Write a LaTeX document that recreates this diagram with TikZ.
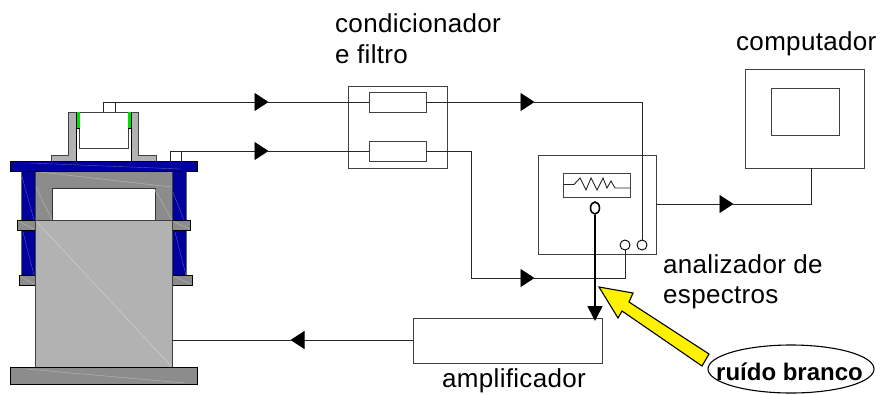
\documentclass[tikz,border=0pt]{standalone}
\usepackage{fontspec}
\setmainfont{Liberation Sans}
\newfontfamily\labfont[LetterSpace=1.2]{Liberation Sans}
\usetikzlibrary{arrows.meta,shapes.geometric}
\definecolor{bluepart}{HTML}{00009C}
\definecolor{lightpart}{HTML}{B2B2B2}
\definecolor{darkpart}{HTML}{8C8C8C}
\definecolor{greenpart}{HTML}{00E000}
\definecolor{edgegray}{HTML}{404040}
\newcommand{\bx}[6]{%
  \pgfmathsetmacro\cxx{(#3+#5)/2}\pgfmathsetmacro\cyy{(#4+#6)/2}%
  \pgfmathsetmacro\wxx{#5-#3}\pgfmathsetmacro\hyy{#6-#4}%
  \node[#1,minimum width=\wxx pt,minimum height=\hyy pt] (#2) at (\cxx,\cyy) {};}
\tikzset{
  boxp/.style={draw=edgegray,line width=0.9pt,inner sep=0pt,outer sep=0pt,rectangle},
  wire/.style={draw=black!85,line width=0.9pt},
  tipped/.style={wire,-{Triangle[length=14pt,width=18pt,color=black,fill=black]},shorten >=-0.5pt},
  part/.style={draw=black!80,line width=0.9pt},
  glintb/.style={draw=bluepart!65!white,line width=0.4pt},
  glintl/.style={draw=lightpart!55!white,line width=0.4pt},
  glintd/.style={draw=lightpart,line width=0.5pt},
  lab/.style={anchor=base west,inner sep=0pt,font=\labfont\fontsize{26}{30}\selectfont},
}
\begin{document}
\begin{tikzpicture}[x=1pt,y=-1pt]
\useasboundingbox (0,0) rectangle (880,394);
% machine
\fill[bluepart] (21,171) rectangle (35,275);
\fill[bluepart] (172,171) rectangle (186,275);
\draw[glintb] (21,173) -- (34,220) (23,232) -- (34,275);
\draw[glintb] (172,190) -- (186,225) (175,232) -- (186,275);
\draw[part,draw=black!60] (21,171) -- (21,275) (186,171) -- (186,275);
\fill[darkpart,draw=edgegray,line width=0.8pt] (35,171) rectangle (172,220);
\fill[white,draw=black!80,line width=0.8pt] (52,188) rectangle (155,220);
\draw[glintd] (40,172) -- (172,187);
\draw[glintd] (36,187) -- (52,220);
\draw[glintd] (155,190) -- (172,220);
\fill[darkpart,draw=black,line width=0.8pt] (17,220) rectangle (190,230);
\fill[darkpart,draw=black,line width=0.8pt] (19,275) rectangle (192,285);
\draw[glintd] (18,221) -- (34,229) (173,221) -- (189,229) (20,276) -- (34,284) (173,276) -- (191,284);
\fill[lightpart,draw=edgegray,line width=0.9pt] (35,220) rectangle (172,367);
\draw[glintl] (36,221) -- (171,366);
\fill[darkpart,draw=black,line width=0.8pt] (10,367) rectangle (197,384);
\draw[glintd] (26,369) -- (185,383);
% top plate and sensor
\fill[lightpart,draw=edgegray,line width=0.8pt] (51,161) -- (51,155) -- (68,155) -- (68,112) -- (76,112) -- (76,161) -- cycle;
\fill[lightpart,draw=edgegray,line width=0.8pt] (156,161) -- (156,155) -- (138,155) -- (138,112) -- (131,112) -- (131,161) -- cycle;
\draw[draw=black,line width=0.9pt] (76,112) -- (76,161) (131,128) -- (131,161);
\fill[white,draw=edgegray,line width=0.8pt] (79,112) rectangle (128,148);
\draw[edgegray,line width=0.8pt] (76,112) -- (131,112);
\fill[greenpart] (76,112) rectangle (79.5,128);
\fill[greenpart] (127.5,112) rectangle (131,128);
\draw[black,line width=0.7pt] (76,112) -- (76,128) -- (79.5,128);
\draw[black,line width=0.7pt] (127.5,128) -- (131,128) -- (131,112);
\fill[bluepart,draw=black,line width=0.9pt] (10,161) rectangle (197,171);
\draw[glintb] (30,163) -- (180,169);
% instruments
\bx{boxp}{cond}{348}{86}{447}{168}
\bx{boxp}{filta}{369}{92}{426}{112}
\bx{boxp}{filtb}{369}{141}{426}{161}
\bx{boxp}{ana}{538}{155}{656}{254}
\bx{boxp}{scr}{563}{173}{630}{197}
\bx{boxp}{comp}{745}{69}{864}{168}
\bx{boxp}{cscr}{771}{88}{839}{135}
\bx{boxp}{amp}{413}{318}{602}{363}
\node[draw=black,line width=0.9pt,circle,inner sep=0pt,minimum size=10pt] (jka) at (625,245) {};
\node[draw=black,line width=0.9pt,circle,inner sep=0pt,minimum size=10pt] (jkb) at (642,245) {};
\node[draw=black,line width=1.6pt,ellipse,inner sep=0pt,minimum width=9pt,minimum height=12pt] (jkc) at (595,208) {};
% signal trace
\coordinate (tra) at (563,184.5); \coordinate (trb) at (630,188);
\draw[wire] (tra) -- (574,184.5) -- (580,178) -- (586,190) -- (591,178) -- (597,190) -- (603,178) -- (607,188) -- (611,181) -- (615,188) -- (trb);
% wires
\coordinate (sa) at (103,112); \coordinate (sa2) at (103,102); \coordinate (sa3) at (115,112); \coordinate (sa4) at (115,102);
\coordinate (sb) at (170,161); \coordinate (sb2) at (170,151); \coordinate (sb3) at (181,161); \coordinate (sb4) at (181,151);
\coordinate (ta) at (268,102); \coordinate (tb) at (268,151);
\coordinate (tc) at (534,102); \coordinate (td) at (534,278); \coordinate (te) at (733,204); \coordinate (tf) at (291,340);
\coordinate (ca) at (642,102); \coordinate (cb) at (471,151); \coordinate (cc) at (471,278); \coordinate (cd) at (625,278);
\coordinate (ce) at (811,204);
\draw[wire] (sa) -- (sa2) (sa3) -- (sa4) (sb) -- (sb2) (sb3) -- (sb4);
\draw[tipped] (sa2) -- (ta); \draw[wire] (ta) -- (filta.west);
\draw[tipped] (sb2) -- (tb); \draw[wire] (tb) -- (filtb.west);
\draw[tipped] (filta.east) -- (tc); \draw[wire] (tc) -- (ca) -- (jkb.north);
\draw[wire] (filtb.east) -- (cb) -- (cc);
\draw[tipped] (cc) -- (td); \draw[wire] (td) -- (cd) -- (jka.south);
\draw[tipped] (ana.east|-te) -- (te); \draw[wire] (te) -- (ce) -- (comp.south-|ce);
\coordinate (bo) at (172,340);
\draw[tipped] (amp.west|-tf) -- (tf); \draw[wire] (tf) -- (bo);
\draw[black,line width=1.6pt,-{Triangle[length=15pt,width=15pt]}] (jkc.south) -- (595,321);
% noise source
\node[draw=black,line width=1.1pt,ellipse,inner sep=0pt,minimum width=166pt,minimum height=48pt] (noise) at (791,369) {};
\node[inner sep=0pt,anchor=base,font=\bfseries\fontsize{24}{28}\selectfont] (noiset) at (789.5,380) {ruído branco};
\fill[yellow,draw=black,line width=1.1pt] (599,287) -- (633,293) -- (629,302) -- (709,354) -- (702,366) -- (622,311) -- (618,318) -- cycle;
% labels
\node[lab] (l1) at (335,32) {condicionador};
\node[lab] (l2) at (335,63) {e filtro};
\node[lab] (l3) at (736,50) {computador};
\node[lab] (l4) at (663,273) {analizador de};
\node[lab] (l5) at (663,303) {espectros};
\node[lab] (l6) at (442,387) {amplificador};
\end{tikzpicture}
\end{document}
